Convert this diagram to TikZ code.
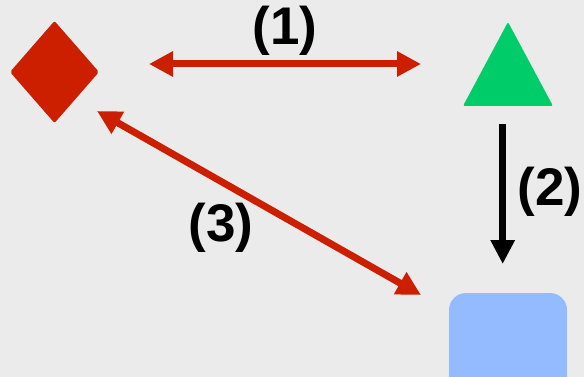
\documentclass[tikz,border=0pt]{standalone}
\usepackage{fontspec}
\setmainfont{Liberation Sans}
\usetikzlibrary{arrows.meta}
\definecolor{bgc}{HTML}{EBEBEB}
\definecolor{redc}{HTML}{CC1F00}
\definecolor{greenc}{HTML}{00CC6A}
\definecolor{bluec}{HTML}{94BBFF}
\tikzset{
  lbl/.style={font=\fontsize{53}{53}\selectfont\bfseries, inner sep=0pt, text=black},
  redarrow/.style={draw=redc, line width=7pt, {Triangle[length=24pt,width=24pt]}-{Triangle[length=24pt,width=24pt]}},
  blackarrow/.style={draw=black, line width=7pt, -{Triangle[length=24pt,width=23pt]}}
}
\begin{document}
\begin{tikzpicture}[x=1pt,y=-1pt]
\useasboundingbox (0,0) rectangle (584,377);
\fill[bgc] (0,0) rectangle (584,377);
\clip (0,0) rectangle (584,377);
% shapes
\fill[redc, rounded corners=2pt] (10,72) -- (54.5,21) -- (99,72) -- (54.5,123) -- cycle;
\fill[greenc, rounded corners=2pt] (508,22) -- (553,106) -- (463,106) -- cycle;
\fill[bluec, rounded corners=17pt] (449,293) rectangle (567,400);
% connector ends
\coordinate (a1) at (149,64);
\coordinate (b1) at (421,64);
\coordinate (a2) at (502.7,124);
\coordinate (b2) at (502.7,264);
\coordinate (a3) at (97,111);
\coordinate (b3) at (421,295);
\draw[redarrow] (a1) -- (b1);
\draw[blackarrow] (a2) -- (b2);
\draw[redarrow] (a3) -- (b3);
% labels
\node[lbl] (l1) at (285,31) {(1)};
\node[lbl] (l2) at (550,192) {(2)};
\node[lbl] (l3) at (221,228) {(3)};
\end{tikzpicture}
\end{document}
